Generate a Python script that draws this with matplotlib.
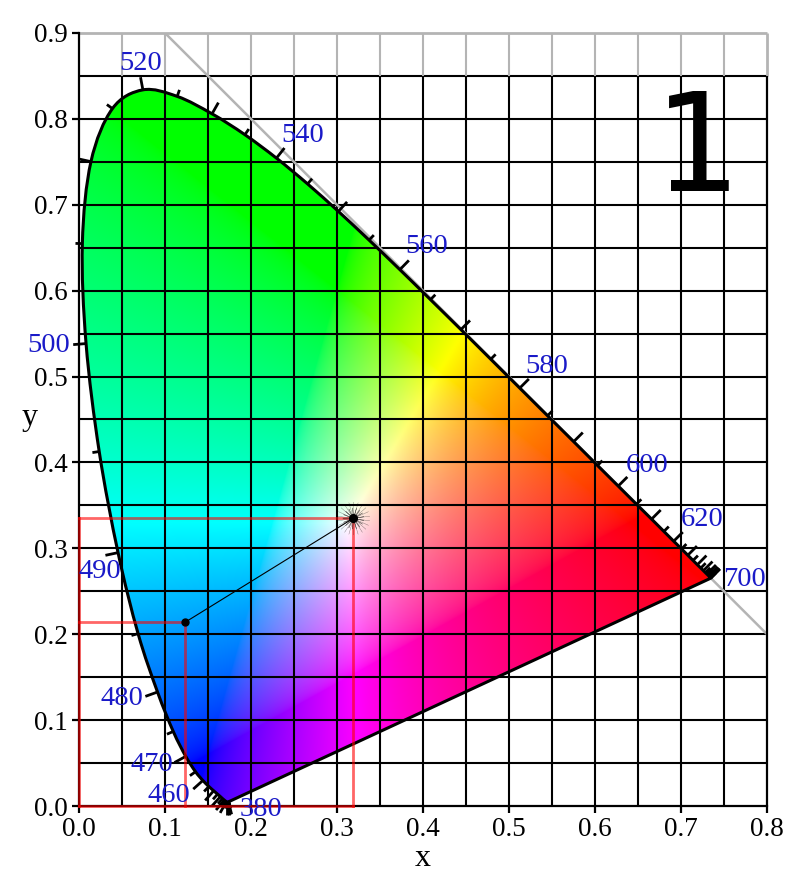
import numpy as np
import matplotlib
matplotlib.use("Agg")
import matplotlib.pyplot as plt
from matplotlib.patches import PathPatch
from matplotlib.path import Path

plt.rcParams['font.family'] = ['Liberation Serif', 'DejaVu Serif']

wavelengths = list(range(380, 705, 5))
locus_x = [.1741,.1740,.1738,.1736,.1733,.1730,.1726,.1721,.1714,.1703,.1689,.1669,.1644,.1611,.1566,.1510,
           .1440,.1355,.1241,.1096,.0913,.0687,.0454,.0235,.0082,.0039,.0139,.0389,.0743,.1142,.1547,.1929,
           .2296,.2658,.3016,.3373,.3731,.4087,.4441,.4788,.5125,.5448,.5752,.6029,.6270,.6482,.6658,.6801,
           .6915,.7006,.7079,.7140,.7190,.7230,.7260,.7283,.7300,.7311,.7320,.7327,.7334,.7340,.7344,.7346,.7347]
locus_y = [.0050,.0050,.0049,.0049,.0048,.0048,.0048,.0048,.0051,.0058,.0069,.0086,.0109,.0138,.0177,.0227,
           .0297,.0399,.0578,.0868,.1327,.2007,.2950,.4127,.5384,.6548,.7502,.8120,.8338,.8262,.8059,.7816,
           .7543,.7243,.6923,.6589,.6245,.5896,.5547,.5202,.4866,.4544,.4242,.3965,.3725,.3514,.3340,.3197,
           .3083,.2993,.2920,.2859,.2809,.2770,.2740,.2717,.2700,.2689,.2680,.2673,.2666,.2660,.2656,.2654,.2653]

label_text = ['520','540','560','580','600','620','700','380','460','470','480','490','500']
label_x = [.0721,.2605,.4047,.544,.6605,.7244,.7744,.2116,.1047,.0849,.05,.0244,-.0349]
label_y = [.865,.781,.652,.512,.397,.334,.264,-.0035,.0128,.0489,.1246,.2736,.5367]

white_point = (0.319, 0.335)
sample_point = (0.1235, 0.214)

fig = plt.figure(figsize=(7.98, 8.82), dpi=100)
ax = fig.add_axes([79/798, (882-806)/882, (767-79)/798, (806-33)/882])
ax.set_xlim(0, 0.8)
ax.set_ylim(0, 0.9)

# Smooth closed outline through the locus points (Bezier segments)
lx = np.array(locus_x); ly = np.array(locus_y)
pts = np.column_stack([lx, ly])
tang = np.gradient(pts, axis=0)
verts = [pts[0]]
codes = [Path.MOVETO]
for i in range(len(pts) - 1):
    verts += [pts[i] + tang[i]/3, pts[i+1] - tang[i+1]/3, pts[i+1]]
    codes += [Path.CURVE4]*3
verts.append(pts[0]); codes.append(Path.LINETO)
verts.append(pts[0]); codes.append(Path.CLOSEPOLY)
outline = Path(np.array(verts), codes)

# Chromaticity colour field
res = 1000
gx, gy = np.meshgrid(np.linspace(0, 0.8, res), np.linspace(0, 0.9, res))
gy_safe = np.maximum(gy, 1e-4)
X = gx / gy_safe
Y = np.ones_like(gx)
Z = (1 - gx - gy) / gy_safe
R = 3.2406*X - 1.5372*Y - 0.4986*Z
G = -0.9689*X + 1.8758*Y + 0.0415*Z
B = 0.0557*X - 0.2040*Y + 1.0570*Z
rgb = np.clip(np.dstack([R, G, B]), 0, None)
rgb = rgb / np.maximum(rgb.max(axis=2, keepdims=True), 1e-6)
rgb = rgb ** (1/1.7)
im = ax.imshow(rgb, origin='lower', extent=(0, 0.8, 0, 0.9), aspect='auto', zorder=1, interpolation='bilinear')
edge = PathPatch(outline, fc='none', ec='black', lw=2.2, zorder=4, joinstyle='round')
ax.add_patch(edge)
im.set_clip_path(edge)

# Grid
grid_x = np.arange(0.05, 0.8, 0.05)
grid_y = np.arange(0.05, 0.9, 0.05)
grey = '#b4b4b4'
ax.vlines(grid_x, 0, 0.85, color='black', lw=1.5, zorder=2)
ax.hlines(grid_y, 0, 0.8, color='black', lw=1.5, zorder=2)
ax.vlines(grid_x, 0.85, 0.9, color=grey, lw=1.5, zorder=2)
ax.plot([0.1, 0.8], [0.9, 0.2], color=grey, lw=1.8, zorder=2)

# Wavelength ticks
dx = np.gradient(lx); dy = np.gradient(ly)
n = np.hypot(dx, dy)
nx, ny = -dy/n, dx/n
for i, w in enumerate(wavelengths):
    length = 0.015 if w % 10 == 0 else 0.008
    ax.plot([lx[i], lx[i]+nx[i]*length], [ly[i], ly[i]+ny[i]*length], color='black', lw=2.0,
            zorder=4, clip_on=False, solid_capstyle='butt')

# Red construction lines
red = (1, 0, 0, 0.6)
for px_, py_ in (white_point, sample_point):
    ax.plot([0, px_, px_], [py_, py_, 0], color=red, lw=2.0, zorder=5, clip_on=False, solid_joinstyle='miter')
ax.plot([0, white_point[0]], [0, 0], color=red, lw=2.0, zorder=7, clip_on=False)
ax.plot([0, 0], [0, white_point[1]], color=red, lw=2.0, zorder=7, clip_on=False)

# Connecting line, points, starburst
ax.plot(*zip(sample_point, white_point), color='black', lw=0.8, zorder=6)
ax.plot(*sample_point, 'o', color='black', ms=5, zorder=6)
ax.scatter(*white_point, marker=(22, 2, 0), s=560, color='black', lw=0.25, alpha=0.3, zorder=6)
ax.scatter(*white_point, marker=(17, 2, 5), s=230, color='black', lw=0.4, alpha=0.45, zorder=6)
ax.plot(*white_point, 'o', color='black', ms=5.5, zorder=6)

# Axes
for side in ('left', 'bottom'):
    ax.spines[side].set_linewidth(1.6)
    ax.spines[side].set_zorder(3)
for side in ('top', 'right'):
    ax.spines[side].set_visible(False)
ax.hlines(0.9, 0, 0.8, color=grey, lw=2.0, zorder=2, clip_on=False)
ax.vlines(0.8, 0.85, 0.9, color=grey, lw=2.0, zorder=2, clip_on=False)
ax.vlines(0.8, 0, 0.85, color='black', lw=1.6, zorder=2, clip_on=False)
ax.set_xticks(np.arange(0, 0.81, 0.1))
ax.set_yticks(np.arange(0, 0.91, 0.1))
ax.set_xticklabels([f'{v:.1f}' for v in np.arange(0, 0.81, 0.1)])
ax.set_yticklabels([f'{v:.1f}' for v in np.arange(0, 0.91, 0.1)])
ax.tick_params(length=5, width=1.6, labelsize=19.5, pad=3)
fig.text(423/798, 1-859/882, 'x', fontsize=23, ha='center', va='center')
fig.text(30/798, 1-417/882, 'y', fontsize=23, ha='center', va='center')

for t, x_, y_ in zip(label_text, label_x, label_y):
    ax.text(x_, y_, t, color='#1a1ac8', fontsize=20.5, ha='center', va='center', zorder=8, clip_on=False)

fig.text(698/798, 1-191/882, '1', family='DejaVu Sans', fontsize=99,
         ha='center', va='baseline', color='black', zorder=9)

fig.savefig('out.png', dpi=100)
